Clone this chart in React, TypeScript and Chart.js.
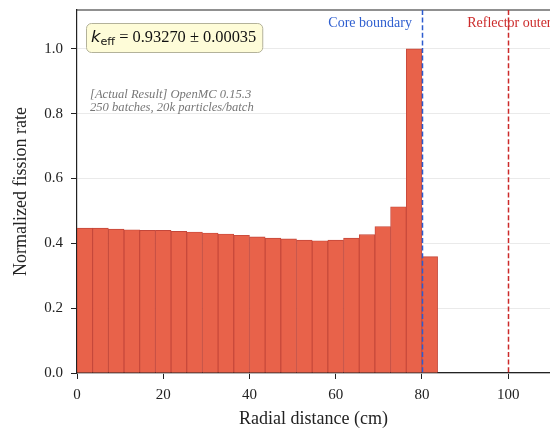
import { useEffect, useRef } from "react";
import { Chart, registerables } from "chart.js";

Chart.register(...registerables);

// Radial bin centers (cm) – 22 equal bins across the core (0–80 cm) plus one beyond
const binCenters = [
  1.818, 5.455, 9.091, 12.727, 16.364, 20.0, 23.636, 27.273, 30.909, 34.545, 38.182,
  41.818, 45.455, 49.091, 52.727, 56.364, 60.0, 63.636, 67.273, 70.909, 74.545, 78.182,
  81.818,
];
const fissionRates = [
  0.447, 0.447, 0.444, 0.442, 0.44, 0.44, 0.437, 0.435, 0.432, 0.429, 0.425, 0.42,
  0.416, 0.414, 0.41, 0.408, 0.41, 0.416, 0.427, 0.452, 0.513, 1.0, 0.359,
];
const xTicks = [0, 20, 40, 60, 80, 100];
const yTicks = [0, 0.2, 0.4, 0.6, 0.8, 1.0];
const coreBoundary = 80;
const reflectorOuter = 100;
const coreLabel = "Core boundary";
const reflectorLabel = "Reflector outer";
const keffValue = "0.93270";
const keffSigma = "0.00035";
const noteLines = ["[Actual Result] OpenMC 0.15.3", "250 batches, 20k particles/batch"];

const SERIF = "'Liberation Serif', 'Times New Roman', serif";
const SANS = "'DejaVu Sans', sans-serif";

const overlayPlugin = {
  id: "overlay",
  afterDatasetsDraw(chart: any) {
    const { ctx, chartArea: a, scales } = chart;
    const x = scales.x;
    ctx.save();
    // top spine
    ctx.strokeStyle = "#222";
    ctx.lineWidth = 1.2;
    ctx.beginPath();
    ctx.moveTo(a.left, a.top);
    ctx.lineTo(a.right, a.top);
    ctx.stroke();

    // boundary lines
    const drawV = (val: number, color: string) => {
      const px = Math.round(x.getPixelForValue(val)) + 0.5;
      ctx.strokeStyle = color;
      ctx.lineWidth = 1.5;
      ctx.setLineDash([5, 2.6]);
      ctx.beginPath();
      ctx.moveTo(px, a.top);
      ctx.lineTo(px, a.bottom);
      ctx.stroke();
      ctx.setLineDash([]);
    };
    drawV(coreBoundary, "#2d5ccf");
    drawV(reflectorOuter, "#cc2a2a");

    ctx.font = `14px ${SERIF}`;
    ctx.textBaseline = "alphabetic";
    ctx.fillStyle = "#2f5fd0";
    ctx.textAlign = "right";
    ctx.fillText(coreLabel, x.getPixelForValue(coreBoundary) - 10, 27);
    ctx.fillStyle = "#cc2a2a";
    ctx.textAlign = "left";
    ctx.fillText(reflectorLabel, x.getPixelForValue(reflectorOuter) - 41, 27);

    // keff box
    const bx = 86, by = 23, bh = 29;
    const tx = 91, base = 42;
    ctx.font = `italic 16.4px ${SANS}`;
    const kW = ctx.measureText("k").width;
    ctx.font = `11.2px ${SANS}`;
    const effW = ctx.measureText("eff").width;
    const rest = ` = ${keffValue} \u00b1 ${keffSigma}`;
    ctx.font = `16.4px ${SERIF}`;
    const restW = ctx.measureText(rest).width;
    const bw = tx - bx + kW + effW + restW + 6;
    ctx.beginPath();
    ctx.roundRect(bx + 0.5, by + 0.5, bw, bh, 5);
    ctx.fillStyle = "#fefcd8";
    ctx.fill();
    ctx.strokeStyle = "#b3b29a";
    ctx.lineWidth = 1;
    ctx.stroke();
    ctx.fillStyle = "#111";
    ctx.textAlign = "left";
    ctx.font = `italic 16.4px ${SANS}`;
    ctx.fillText("k", tx, base);
    ctx.font = `11.2px ${SANS}`;
    ctx.fillText("eff", tx + kW, base + 3);
    ctx.font = `16.4px ${SERIF}`;
    ctx.fillText(rest, tx + kW + effW, base);

    // note
    ctx.font = `italic 12.6px ${SERIF}`;
    ctx.fillStyle = "#777";
    ctx.fillText(noteLines[0], 90, 98);
    ctx.fillText(noteLines[1], 90, 111);
    ctx.restore();
  },
};

export default function App() {
  const ref = useRef<HTMLCanvasElement | null>(null);
  useEffect(() => {
    if (!ref.current) return;
    const chart = new Chart(ref.current, {
      type: "bar",
      data: {
        datasets: [
          {
            data: binCenters.map((c, i) => ({ x: c, y: fissionRates[i] })),
            backgroundColor: "#e8624a",
            borderColor: "#c4473a",
            borderWidth: 0.9,
            barPercentage: 1,
            categoryPercentage: 1,
          } as any,
        ],
      },
      options: {
        animation: false,
        responsive: false,
        maintainAspectRatio: false,
        layout: { padding: { top: 10, right: 0, left: 0, bottom: 0 } },
        plugins: { legend: { display: false }, tooltip: { enabled: false } },
        scales: {
          x: {
            type: "linear",
            min: 0,
            max: 109.7,
            offset: false,
            afterBuildTicks: (s: any) => {
              s.ticks = xTicks.map((v) => ({ value: v }));
            },
            afterFit: (s: any) => {
              s.height = 57;
              s.paddingLeft = 0;
              s.paddingRight = 0;
            },
            grid: {
              display: true,
              offset: false,
              drawOnChartArea: false,
              drawTicks: true,
              tickLength: 6,
              tickColor: "#222",
              tickWidth: 1,
            },
            border: { display: true, color: "#222", width: 1.2 },
            ticks: {
              color: "#222",
              font: { family: SERIF, size: 15 },
              padding: 7,
              maxRotation: 0,
              autoSkip: false,
            },
            title: {
              display: true,
              text: "Radial distance (cm)",
              color: "#222",
              font: { family: SERIF, size: 18 },
              padding: { top: 0, bottom: 0 },
            },
          },
          y: {
            type: "linear",
            min: 0,
            max: 1.12,
            afterBuildTicks: (s: any) => {
              s.ticks = yTicks.map((v) => ({ value: v }));
            },
            afterFit: (s: any) => {
              s.width = 77;
              s.paddingTop = 0;
              s.paddingBottom = 0;
            },
            grid: {
              display: true,
              color: "#e4e4e4",
              lineWidth: 0.8,
              drawTicks: true,
              tickLength: 6,
              tickColor: "#222",
              tickWidth: 1,
            },
            border: { display: true, color: "#222", width: 1.2 },
            ticks: {
              color: "#222",
              font: { family: SERIF, size: 15 },
              padding: 8,
              callback: (v: any) => Number(v).toFixed(1),
            },
            title: {
              display: true,
              text: "Normalized fission rate",
              color: "#222",
              font: { family: SERIF, size: 18 },
              padding: { top: 10, bottom: 0 },
            },
          },
        },
      } as any,
      plugins: [overlayPlugin],
    });
    return () => chart.destroy();
  }, []);
  return (
    <div style={{ position: "fixed", left: 0, top: 0, width: 550, height: 430, background: "#fff" }}>
      <canvas ref={ref} width={550} height={430} style={{ width: 550, height: 430, display: "block" }} />
    </div>
  );
}
